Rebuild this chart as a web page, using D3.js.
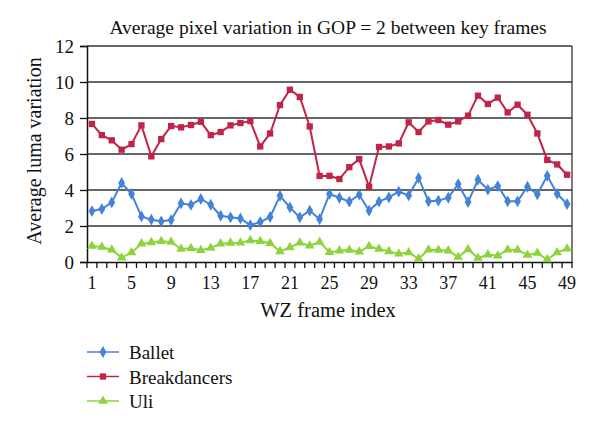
<!DOCTYPE html>
<html><head><meta charset="utf-8">
<script src="https://cdn.jsdelivr.net/npm/d3@7"></script>
<style>body{margin:0;background:#fff}svg{display:block}text{font-family:"Liberation Serif","Times New Roman",serif;fill:#111}</style>
</head><body><svg id="c" width="600" height="429"></svg>
<script>
const frames = d3.range(1, 50);
const xTickLabels = [1,5,9,13,17,21,25,29,33,37,41,45,49];
const yTicks = [0,2,4,6,8,10,12];
const seriesNames = ["Ballet","Breakdancers","Uli"];
const ballet = [2.83,2.94,3.31,4.39,3.78,2.53,2.35,2.26,2.33,3.26,3.17,3.5,3.18,2.57,2.48,2.42,2.05,2.22,2.5,3.68,3.03,2.48,2.85,2.38,3.78,3.57,3.35,3.74,2.85,3.35,3.59,3.91,3.7,4.67,3.37,3.41,3.57,4.33,3.33,4.57,4.02,4.22,3.37,3.37,4.18,3.76,4.79,3.79,3.22];
const breakdancers = [7.67,7.05,6.76,6.24,6.55,7.59,5.87,6.83,7.55,7.48,7.61,7.79,7.05,7.22,7.59,7.72,7.83,6.42,7.14,8.72,9.57,9.17,7.53,4.78,4.79,4.61,5.27,5.72,4.18,6.39,6.42,6.59,7.76,7.22,7.81,7.89,7.63,7.81,8.13,9.24,8.78,9.13,8.31,8.74,8.18,7.14,5.67,5.42,4.85];
const uli = [0.89,0.83,0.68,0.24,0.53,1.02,1.09,1.15,1.11,0.72,0.76,0.65,0.78,1.02,1.06,1.07,1.2,1.15,1.04,0.59,0.81,1.07,0.9,1.11,0.54,0.63,0.67,0.57,0.87,0.72,0.59,0.46,0.53,0.18,0.68,0.67,0.63,0.28,0.7,0.22,0.41,0.35,0.68,0.67,0.39,0.5,0.14,0.53,0.74];
const colors = ["#4383d9","#c02448","#8cd43a"];
const symbols = [d3.symbolDiamond, d3.symbolSquare, d3.symbolTriangle];
const symSizes = [40, 40, 40];
const allSeries = [ballet, breakdancers, uli];

const svg = d3.select("#c");
const L = 87, R = 572, T = 46, B = 262;
const x = d3.scaleBand().domain(frames).range([L, R]);
const y = d3.scaleLinear().domain([0, 12]).range([B, T]);
const cx = d => x(d) + x.bandwidth()/2;

// gridlines
svg.append("g").selectAll("line").data(yTicks.filter(v => v > 0)).join("line")
  .attr("x1", L).attr("x2", R).attr("y1", d => y(d)).attr("y2", d => y(d))
  .attr("stroke", "#333").attr("stroke-width", 1.3);
// right border
svg.append("line").attr("x1", R).attr("x2", R).attr("y1", T).attr("y2", B).attr("stroke", "#333").attr("stroke-width", 1.3);

// y axis
const ya = svg.append("g").attr("transform", `translate(${L},0)`)
  .call(d3.axisLeft(y).tickValues(yTicks).tickSize(7).tickPadding(6));
ya.select(".domain").attr("stroke", "#111").attr("stroke-width", 1.5);
ya.selectAll(".tick line").attr("stroke", "#111").attr("stroke-width", 1.3);
ya.selectAll("text").style("font-size", "19px").style("font-family", "Liberation Serif").attr("fill", "#111");

// x axis
const xa = svg.append("g").attr("transform", `translate(0,${B})`)
  .call(d3.axisBottom(x).tickValues(xTickLabels).tickSize(0).tickPadding(14));
xa.select(".domain").attr("stroke", "#111").attr("stroke-width", 1.5);
xa.selectAll("text").style("font-size", "18px").style("font-family", "Liberation Serif").attr("fill", "#111");
// tick marks between categories
const bounds = frames.map(f => x(f)).concat([R]);
svg.append("g").selectAll("line").data(bounds).join("line")
  .attr("x1", d => d).attr("x2", d => d).attr("y1", B).attr("y2", B + 6)
  .attr("stroke", "#111").attr("stroke-width", 1.3);

// series
const line = d3.line().x((d, i) => cx(frames[i])).y(d => y(d));
allSeries.forEach((s, k) => {
  const g = svg.append("g");
  g.append("path").datum(s).attr("d", line).attr("fill", "none")
    .attr("stroke", colors[k]).attr("stroke-width", 2);
  g.selectAll("path.m").data(s).join("path").attr("class", "m")
    .attr("d", d3.symbol().type(symbols[k]).size(symSizes[k]))
    .attr("transform", (d, i) => `translate(${cx(frames[i])},${y(d)})`)
    .attr("fill", colors[k]);
});

// title
svg.append("text").attr("x", 328).attr("y", 34).attr("text-anchor", "middle")
  .style("font-size", "19.5px").text("Average pixel variation in GOP = 2 between key frames");
// y title
svg.append("text").attr("transform", "translate(41,151) rotate(-90)").attr("text-anchor", "middle")
  .style("font-size", "20px").text("Average luma variation");
// x title
svg.append("text").attr("x", 328).attr("y", 317).attr("text-anchor", "middle")
  .style("font-size", "20.5px").text("WZ frame index");

// legend
const lg = svg.append("g");
seriesNames.forEach((n, k) => {
  const yy = 352 + k * 24.5;
  lg.append("line").attr("x1", 87).attr("x2", 119).attr("y1", yy).attr("y2", yy)
    .attr("stroke", colors[k]).attr("stroke-width", 1.5);
  lg.append("path").attr("d", d3.symbol().type(symbols[k]).size(symSizes[k]))
    .attr("transform", `translate(103,${yy})`).attr("fill", colors[k]);
  lg.append("text").attr("x", 129).attr("y", yy + 7).style("font-size", "19px").text(n);
});
</script></body></html>
